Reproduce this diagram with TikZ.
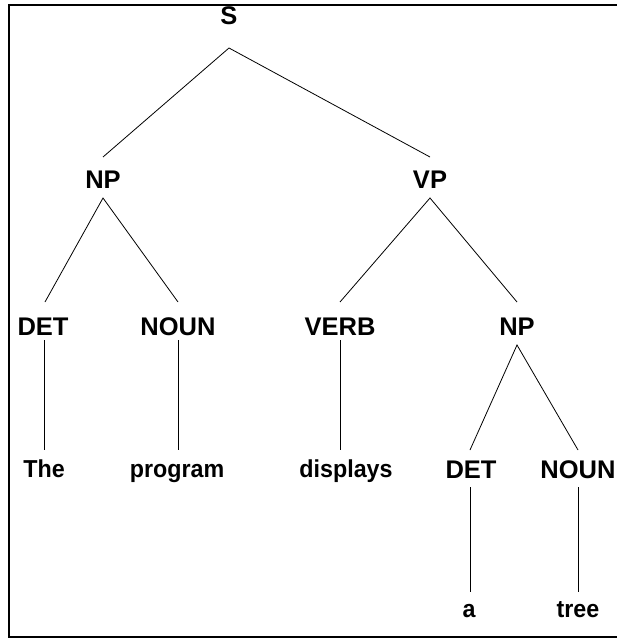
\documentclass[tikz,border=0pt]{standalone}
\usepackage{fontspec}
\newfontfamily\treefont{Liberation Sans Bold}[FakeStretch=0.95]
\newfontfamily\catfont{Liberation Sans Bold}
\begin{document}
\begin{tikzpicture}[x=1pt,y=-1pt,
  lbl/.style={anchor=base,inner sep=0pt,font=\treefont\fontsize{24.5}{28}\selectfont},
  cat/.style={anchor=base,inner sep=0pt,font=\catfont\fontsize{25.5}{28}\selectfont},
  edge/.style={line width=0.8pt},
  frame/.style={line width=2.6pt}]
\useasboundingbox (0,0) rectangle (617,639);
\draw[frame] (625,5) -- (9,5) -- (9,637) -- (625,637);
% labels
\node[cat] (s) at (229,25) {S};
\node[cat] (np1) at (103,188) {NP};
\node[cat] (vp) at (430,188) {VP};
\node[cat] (det1) at (43,335) {DET};
\node[cat] (noun1) at (178,335) {NOUN};
\node[cat] (verb) at (340,335) {VERB};
\node[cat] (np2) at (517,335) {NP};
\node[lbl] (the) at (44,477) {The};
\node[lbl] (program) at (177,477) {program};
\node[lbl] (displays) at (346,477) {displays};
\node[cat] (det2) at (471,478) {DET};
\node[cat] (noun2) at (578,478) {NOUN};
\node[lbl] (a) at (469,617) {a};
\node[lbl] (tree) at (578,617) {tree};
% connection points
\coordinate (sB) at (229,48);
\coordinate (np1T) at (103,157);
\coordinate (vpT) at (430,157);
\coordinate (np1B) at (103,198);
\coordinate (vpB) at (430,198);
\coordinate (det1T) at (45,302);
\coordinate (noun1T) at (178,302);
\coordinate (verbT) at (340,302);
\coordinate (np2T) at (517,302);
\coordinate (det1B) at (44,340);
\coordinate (noun1B) at (178,340);
\coordinate (verbB) at (340,340);
\coordinate (np2B) at (517,345);
\coordinate (theT) at (44,450);
\coordinate (programT) at (178,450);
\coordinate (displaysT) at (340,450);
\coordinate (det2T) at (470,450);
\coordinate (noun2T) at (578,450);
\coordinate (det2B) at (470,487);
\coordinate (noun2B) at (578,487);
\coordinate (aT) at (470,592);
\coordinate (treeT) at (578,592);
\draw[edge] (np1T) -- (sB) -- (vpT);
\draw[edge] (det1T) -- (np1B) -- (noun1T);
\draw[edge] (verbT) -- (vpB) -- (np2T);
\draw[edge] (det1B) -- (theT);
\draw[edge] (noun1B) -- (programT);
\draw[edge] (verbB) -- (displaysT);
\draw[edge] (det2T) -- (np2B) -- (noun2T);
\draw[edge] (det2B) -- (aT);
\draw[edge] (noun2B) -- (treeT);
\end{tikzpicture}
\end{document}
